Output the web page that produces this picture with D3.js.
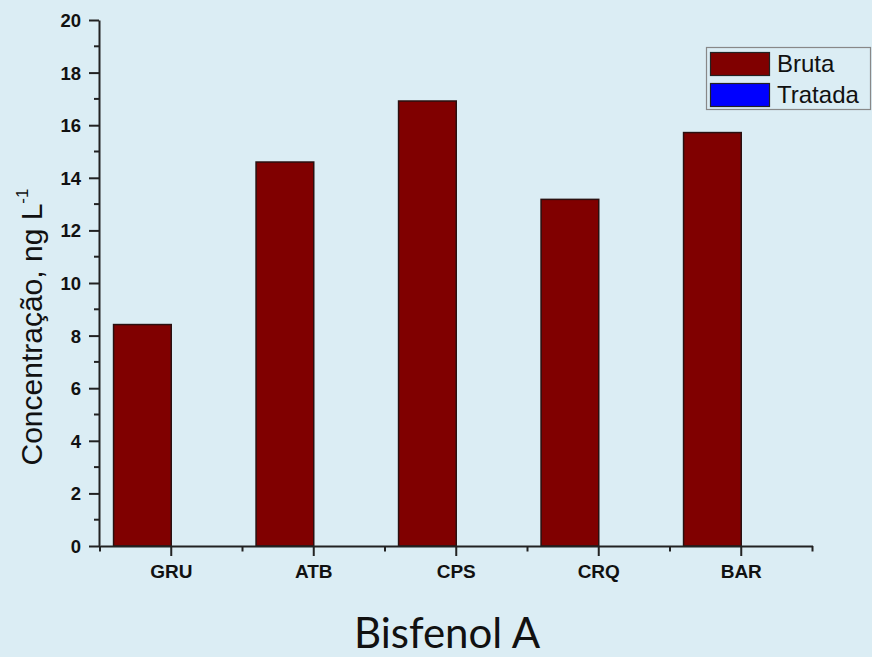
<!DOCTYPE html>
<html>
<head>
<meta charset="utf-8">
<script src="https://cdn.jsdelivr.net/npm/d3@7"></script>
<style>
  html, body { margin: 0; padding: 0; background: #dbedf4; }
  svg { display: block; }
</style>
</head>
<body>
<svg id="chart" width="872" height="657"></svg>
<script>
// Bisfenol A concentration per site, raw (Bruta) vs treated (Tratada)
const categories = ["GRU", "ATB", "CPS", "CRQ", "BAR"];
const series = ["Bruta", "Tratada"];
const brutaValues = [8.42, 14.6, 16.92, 13.18, 15.72];
const tratadaValues = [0, 0, 0, 0, 0];
const yTickValues = [0, 2, 4, 6, 8, 10, 12, 14, 16, 18, 20];
const seriesColors = ["#800000", "#0000ff"];

const rows = categories.map((c, i) => ({ cat: c, Bruta: brutaValues[i], Tratada: tratadaValues[i] }));

const svg = d3.select("#chart");
const ink = "#222";

const x = d3.scaleBand().domain(categories).range([100, 812.5]).paddingInner(0).paddingOuter(0);
const xs = d3.scaleBand().domain(series).range([0, x.bandwidth()]).paddingInner(0).paddingOuter(0.235);
const y = d3.scaleLinear().domain([0, 20]).range([546, 20]);
const color = d3.scaleOrdinal().domain(series).range(seriesColors);

// bars
const groups = svg.append("g").selectAll("g").data(rows).join("g")
  .attr("transform", d => `translate(${x(d.cat)},0)`);
groups.selectAll("rect")
  .data(d => series.map(s => ({ s, v: d[s] })).filter(e => e.v > 0))
  .join("rect")
  .attr("x", e => xs(e.s))
  .attr("y", e => y(e.v))
  .attr("width", xs.bandwidth())
  .attr("height", e => y(0) - y(e.v))
  .attr("fill", e => color(e.s))
  .attr("stroke", "#2a1010")
  .attr("stroke-width", 1.5);

// y axis
const yAxis = svg.append("g").attr("transform", "translate(99,0)");
yAxis.call(d3.axisLeft(y).tickValues(yTickValues).tickSize(10).tickPadding(8).tickSizeOuter(0));
yAxis.selectAll(".tick line").attr("stroke", ink).attr("stroke-width", 2);
yAxis.select(".domain").attr("stroke", ink).attr("stroke-width", 2);
yAxis.selectAll(".tick text")
  .attr("fill", "#111")
  .attr("font-family", "Liberation Sans, Arial, sans-serif")
  .attr("font-weight", "bold")
  .attr("font-size", 18.5)
  .attr("dy", "0.35em");
// minor y ticks at odd values
yAxis.append("g").selectAll("line").data(d3.range(1, 20, 2)).join("line")
  .attr("x1", -5).attr("x2", 0)
  .attr("y1", d => y(d)).attr("y2", d => y(d))
  .attr("stroke", ink).attr("stroke-width", 2);

// x axis
const xAxisG = svg.append("g").attr("transform", "translate(0,546)");
xAxisG.call(d3.axisBottom(x).tickSize(10).tickPadding(8).tickSizeOuter(0));
xAxisG.selectAll(".tick line").attr("stroke", ink).attr("stroke-width", 2);
xAxisG.select(".domain").attr("stroke", ink).attr("stroke-width", 2);
xAxisG.selectAll(".tick text")
  .attr("fill", "#111")
  .attr("font-family", "Liberation Sans, Arial, sans-serif")
  .attr("font-weight", "bold")
  .attr("font-size", 19)
  .attr("dy", "0.72em");
// minor x ticks at category boundaries
const bounds = categories.map(c => x(c)).concat([x(categories[categories.length - 1]) + x.bandwidth()]);
xAxisG.append("g").selectAll("line").data(bounds).join("line")
  .attr("x1", d => d).attr("x2", d => d)
  .attr("y1", 0).attr("y2", 5.5)
  .attr("stroke", ink).attr("stroke-width", 2);

// y axis title
const yTitle = svg.append("text")
  .attr("transform", "translate(42,327) rotate(-90)")
  .attr("text-anchor", "middle")
  .attr("font-family", "Liberation Sans, Arial, sans-serif")
  .attr("font-size", 30)
  .attr("fill", "#111");
yTitle.append("tspan").text("Concentração, ng L");
yTitle.append("tspan").attr("font-size", 17).attr("dy", -14).text("-1");

// legend
const legend = svg.append("g");
legend.append("rect")
  .attr("x", 706.5).attr("y", 47.5).attr("width", 164).attr("height", 62)
  .attr("fill", "none").attr("stroke", "#888").attr("stroke-width", 1.2);
const legendRows = legend.selectAll("g.item").data(series).join("g").attr("class", "item")
  .attr("transform", (d, i) => `translate(0,${i * 31})`);
legendRows.append("rect")
  .attr("x", 710.5).attr("y", 52.5).attr("width", 59).attr("height", 23)
  .attr("fill", d => color(d)).attr("stroke", "#222").attr("stroke-width", 1.2);
legendRows.append("text")
  .attr("x", 777).attr("y", 72)
  .attr("font-family", "Liberation Sans, Arial, sans-serif")
  .attr("font-size", 24)
  .attr("fill", "#111")
  .text(d => d);

// chart title below
svg.append("text")
  .attr("x", 447).attr("y", 648)
  .attr("text-anchor", "middle")
  .attr("font-family", "Lato, 'Open Sans', sans-serif")
  .attr("font-size", 42)
  .attr("fill", "#111")
  .text("Bisfenol A");
</script>
</body>
</html>
